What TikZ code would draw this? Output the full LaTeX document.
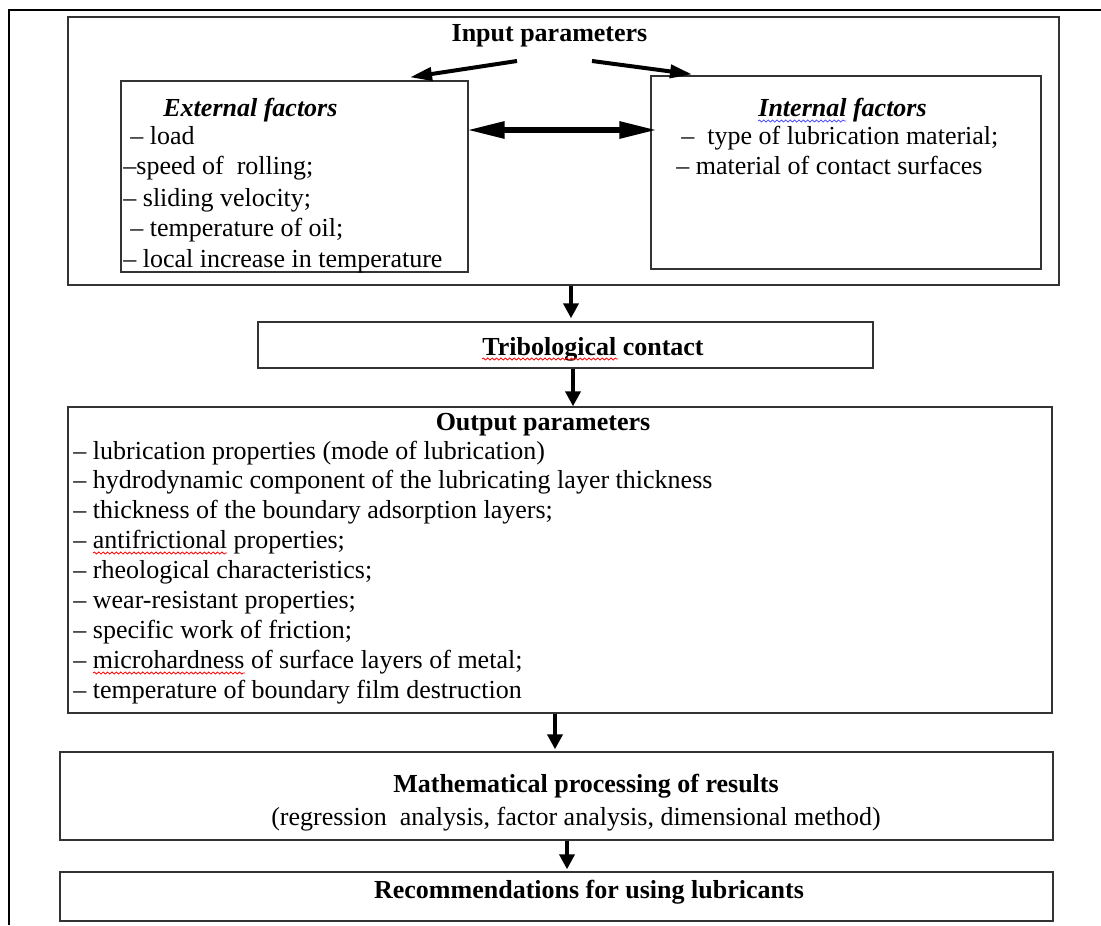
\documentclass[tikz,border=0pt]{standalone}
\usepackage{fontspec}
\setmainfont{Liberation Serif}
\usetikzlibrary{arrows.meta,fit,calc,decorations.pathmorphing}
\begin{document}
\begin{tikzpicture}[x=0.5pt,y=-0.5pt,
  box/.style={draw=black!80, line width=0.7pt, inner sep=0pt},
  txt/.style={inner sep=0pt, anchor=base west, font=\fontsize{13}{15}\selectfont},
  ctxt/.style={inner sep=0pt, anchor=base, font=\fontsize{13}{15}\selectfont},
  varr/.style={line width=2pt, -{Triangle[length=7.5pt,width=7.5pt]}},
  darr/.style={line width=2pt, -{Triangle[length=11pt,width=6.5pt]}},
  dbl/.style={line width=3pt, {Triangle[length=19pt,width=8pt]}-{Triangle[length=19pt,width=8pt]}},
  squig/.style={decorate, decoration={snake, amplitude=0.5pt, segment length=2.2pt}, line width=0.4pt},
]
\useasboundingbox (0,0) rectangle (1101,925);
\draw[line width=1pt] (1101,10) -- (9,10) -- (9,925);

% boxes
\node[box, fit={(68,17) (1059,285)}] (inp) {};
\node[box, fit={(121,81) (468,272)}] (ext) {};
\node[box, fit={(651,76) (1041,269)}] (int) {};
\node[box, fit={(258,322) (873,368)}] (trib) {};
\node[box, fit={(68,407) (1052,713)}] (out) {};
\node[box, fit={(60,752) (1053,840)}] (math) {};
\node[box, fit={(60,872) (1053,921)}] (rec) {};

% texts
\node[ctxt, font=\fontsize{13}{15}\selectfont\bfseries] (tinp) at (549.5,42) {Input parameters};
\node[txt, font=\fontsize{13}{15}\selectfont\bfseries\itshape] (text) at (163,117) {External factors};
\node[txt] (e1) at (130,145) {– load};
\node[txt] (e2) at (123,175) {–speed of~~rolling;};
\node[txt] (e3) at (123,206) {– sliding velocity;};
\node[txt] (e4) at (130,236) {– temperature of oil;};
\node[txt] (e5) at (123,267) {– local increase in temperature};

\node[txt, font=\fontsize{13}{15}\selectfont\bfseries\itshape] (tint) at (758,117) {Internal factors};
\node[txt] (i1) at (681,145) {–~~type of lubrication material;};
\node[txt] (i2) at (676,175) {– material of contact surfaces};

\node[txt, font=\fontsize{13}{15}\selectfont\bfseries] (ttrib) at (482,355) {Tribological contact};

\node[ctxt, font=\fontsize{13}{15}\selectfont\bfseries] (tout) at (543,430) {Output parameters};
\node[txt] (o1) at (73,459) {– lubrication properties (mode of lubrication)};
\node[txt] (o2) at (73,488.9) {– hydrodynamic component of the lubricating layer thickness};
\node[txt] (o3) at (73,518.8) {– thickness of the boundary adsorption layers;};
\node[txt] (o4) at (73,548.7) {– antifrictional properties;};
\node[txt] (o5) at (73,578.6) {– rheological characteristics;};
\node[txt] (o6) at (73,608.5) {– wear-resistant properties;};
\node[txt] (o7) at (73,638.4) {– specific work of friction;};
\node[txt] (o8) at (73,668.3) {– microhardness of surface layers of metal;};
\node[txt] (o9) at (73,698.2) {– temperature of boundary film destruction};

\node[ctxt, font=\fontsize{13}{15}\selectfont\bfseries] (tmath) at (586,792) {Mathematical processing of results};
\node[ctxt] (tmath2) at (576,825) {(regression~~analysis, factor analysis, dimensional method)};
\node[ctxt, font=\fontsize{13}{15}\selectfont\bfseries] (trec) at (589,898) {Recommendations for using lubricants};

% spell-check squiggles
\draw[squig, blue!70] (758,121) -- (846,121);
\draw[squig, red] (482,359) -- (618,359);
\draw[squig, red] (93,553) -- (227,553);
\draw[squig, red] (93,673) -- (245,673);

% connectors
\coordinate (tl) at (517,61);
\coordinate (tr) at (592,61);
\draw[darr] (tl) -- ($(ext.north)+(115.5,-3)$);
\draw[darr] (tr) -- ($(int.north)+(-154,-1)$);
\draw[dbl] ($(ext.east)+(-2,-46.5)$) -- ($(int.west)+(7,-42.5)$);
\draw[varr] ($(inp.south)+(7.5,0)$) -- ($(trib.north)+(5.5,-3)$);
\draw[varr] ($(trib.south)+(7.5,0)$) -- ($(out.north)+(13,0)$);
\draw[varr] ($(out.south)+(-5,0)$) -- ($(math.north)+(-1.5,-2)$);
\draw[varr] ($(math.south)+(10.5,0)$) -- ($(rec.north)+(10.5,-2)$);
\end{tikzpicture}
\end{document}
